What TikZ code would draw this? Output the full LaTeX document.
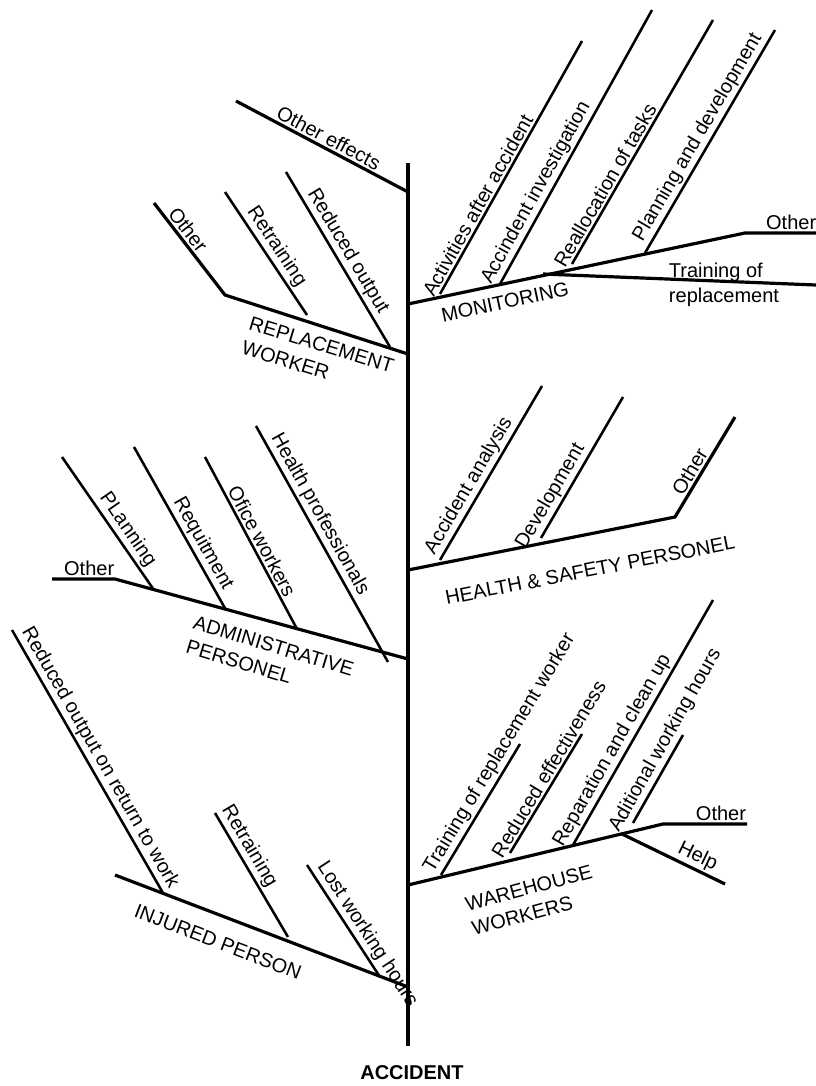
\documentclass[tikz,border=0pt]{standalone}
\usepackage{fontspec}
\setmainfont{Liberation Sans}
\begin{document}
\begin{tikzpicture}[x=0.75pt,y=-0.75pt]
        % Define styles
        \tikzset{
            spine/.style={line width=3.2pt},
            branch/.style={line width=2.4pt, line join=miter},
            twig/.style={line width=1.9pt},
            lbl/.style={font=\fontsize{15}{19}\selectfont, inner sep=1.5pt},
            along/.style={lbl, sloped, above},
            cause/.style={lbl, align=left, inner sep=0pt}
        }
        \useasboundingbox (0,0) rectangle (816,1086);

        % Coordinates
        \coordinate (spine_top) at (408,163);
        \coordinate (spine_bot) at (408,1046);

        \coordinate (oe_a) at (236,101);
        \coordinate (oe_b) at (408,192);

        \coordinate (rep_root) at (408,354);
        \coordinate (rep_bend) at (225,295);
        \coordinate (rep_end) at (154,203);
        \coordinate (rep_retr_a) at (225,192);
        \coordinate (rep_retr_b) at (307,315);
        \coordinate (rep_red_a) at (286,172);
        \coordinate (rep_red_b) at (390,347);

        \coordinate (mon_root) at (408,304);
        \coordinate (mon_bend) at (745,233);
        \coordinate (mon_end) at (816,233);
        \coordinate (mon_train_a) at (543,274);
        \coordinate (mon_train_b) at (816,285);
        \coordinate (mon_act_a) at (440,294);
        \coordinate (mon_act_b) at (582,41);
        \coordinate (mon_inv_a) at (500,284);
        \coordinate (mon_inv_b) at (652,10);
        \coordinate (mon_real_a) at (572,264);
        \coordinate (mon_real_b) at (713,20);
        \coordinate (mon_plan_a) at (645,253);
        \coordinate (mon_plan_b) at (775,30);

        \coordinate (hs_root) at (408,570);
        \coordinate (hs_bend) at (675,517);
        \coordinate (hs_end) at (735,417);
        \coordinate (hs_anal_a) at (440,560);
        \coordinate (hs_anal_b) at (542,386);
        \coordinate (hs_dev_a) at (541,538);
        \coordinate (hs_dev_b) at (623,397);

        \coordinate (adm_root) at (408,659);
        \coordinate (adm_bend) at (115,579);
        \coordinate (adm_end) at (52,579);
        \coordinate (adm_plan_a) at (62,457);
        \coordinate (adm_plan_b) at (154,590);
        \coordinate (adm_req_a) at (134,447);
        \coordinate (adm_req_b) at (226,610);
        \coordinate (adm_off_a) at (205,457);
        \coordinate (adm_off_b) at (297,629);
        \coordinate (adm_hp_a) at (256,426);
        \coordinate (adm_hp_b) at (388,662);

        \coordinate (wh_root) at (408,885);
        \coordinate (wh_bend) at (663,824);
        \coordinate (wh_end) at (747,824);
        \coordinate (wh_help_a) at (622,834);
        \coordinate (wh_help_b) at (725,884);
        \coordinate (wh_train_a) at (441,875);
        \coordinate (wh_train_b) at (520,744);
        \coordinate (wh_red_a) at (510,853);
        \coordinate (wh_red_b) at (582,734);
        \coordinate (wh_rep_a) at (573,845);
        \coordinate (wh_rep_b) at (713,600);
        \coordinate (wh_add_a) at (633,823);
        \coordinate (wh_add_b) at (683,735);

        \coordinate (inj_root) at (408,987);
        \coordinate (inj_end) at (115,875);
        \coordinate (inj_red_a) at (12,630);
        \coordinate (inj_red_b) at (163,893);
        \coordinate (inj_retr_a) at (215,813);
        \coordinate (inj_retr_b) at (288,937);
        \coordinate (inj_lost_a) at (307,865);
        \coordinate (inj_lost_b) at (380,977);

        % Spine
        \draw[spine] (spine_top) -- (spine_bot);
        \node[lbl, font=\fontsize{15}{19}\selectfont\bfseries] (accident) at (412,1073) {ACCIDENT};

        % Other effects
        \draw[branch] (oe_a) -- node[along, pos=0.51] (oe_lbl) {Other effects} (oe_b);

        % Replacement worker
        \draw[branch] (rep_root) -- (rep_bend) -- node[along, pos=0.64] (rep_other) {Other} (rep_end);
        \draw[twig] (rep_retr_a) -- node[along, pos=0.5] (rep_retr) {Retraining} (rep_retr_b);
        \draw[twig] (rep_red_a) -- node[along, pos=0.49] (rep_red) {Reduced output} (rep_red_b);
        \node[cause, rotate=-17] (rep_lbl) at (318,357) {REPLACEMENT\\WORKER};

        % Monitoring
        \draw[branch] (mon_root) -- (mon_bend) -- node[lbl, above, pos=0.65] (mon_other) {Other} (mon_end);
        \draw[branch] (mon_train_a) -- (mon_train_b);
        \node[cause] (mon_train) at (724,285) {Training of\\replacement};
        \draw[twig] (mon_act_a) -- node[along, pos=0.33] (mon_act) {Activities after accident} (mon_act_b);
        \draw[twig] (mon_inv_a) -- node[along, pos=0.31] (mon_inv) {Accindent investigation} (mon_inv_b);
        \draw[twig] (mon_real_a) -- node[along, pos=0.3] (mon_real) {Reallocation of tasks} (mon_real_b);
        \draw[twig] (mon_plan_a) -- node[along, pos=0.49] (mon_plan) {Planning and development} (mon_plan_b);
        \node[cause, rotate=12] (mon_lbl) at (505,302) {MONITORING};

        % Health and safety personel
        \draw[branch] (hs_root) -- (hs_bend) -- node[along, pos=0.4] (hs_other) {Other} (hs_end);
        \draw[twig] (hs_anal_a) -- node[along, pos=0.39] (hs_anal) {Accident analysis} (hs_anal_b);
        \draw[twig] (hs_dev_a) -- node[along, pos=0.25] (hs_dev) {Development} (hs_dev_b);
        \node[cause, rotate=11] (hs_lbl) at (590,570) {HEALTH \& SAFETY PERSONEL};

        % Administrative personel
        \draw[branch] (adm_root) -- (adm_bend) -- node[lbl, above, pos=0.41] (adm_other) {Other} (adm_end);
        \draw[twig] (adm_plan_a) -- node[along, pos=0.6] (adm_plan) {PLanning} (adm_plan_b);
        \draw[twig] (adm_req_a) -- node[along, pos=0.63] (adm_req) {Requitment} (adm_req_b);
        \draw[twig] (adm_off_a) -- node[along, pos=0.52] (adm_off) {Ofice workers} (adm_off_b);
        \draw[twig] (adm_hp_a) -- node[along, pos=0.4] (adm_hp) {Health professionals} (adm_hp_b);
        \node[cause, rotate=-17] (adm_lbl) at (270,658) {ADMINISTRATIVE\\PERSONEL};

        % Warehouse workers
        \draw[branch] (wh_root) -- (wh_bend) -- node[lbl, above, pos=0.69] (wh_other) {Other} (wh_end);
        \draw[branch] (wh_help_a) -- node[along, pos=0.68] (wh_help) {Help} (wh_help_b);
        \draw[twig] (wh_train_a) -- node[along, pos=0.88] (wh_train) {Training of replacement worker} (wh_train_b);
        \draw[twig] (wh_red_a) -- node[along, pos=0.66] (wh_red) {Reduced effectiveness} (wh_red_b);
        \draw[twig] (wh_rep_a) -- node[along, pos=0.36] (wh_rep) {Reparation and clean up} (wh_rep_b);
        \draw[twig] (wh_add_a) -- node[along, pos=0.87] (wh_add) {Aditional working hours} (wh_add_b);
        \node[cause, rotate=15] (wh_lbl) at (532,900) {WAREHOUSE\\WORKERS};

        % Injured person
        \draw[branch] (inj_root) -- (inj_end);
        \draw[twig] (inj_red_a) -- node[along, pos=0.51] (inj_red) {Reduced output on return to work} (inj_red_b);
        \draw[twig] (inj_retr_a) -- node[along, pos=0.32] (inj_retr) {Retraining} (inj_retr_b);
        \draw[twig] (inj_lost_a) -- node[along, pos=0.68] (inj_lost) {Lost working hours} (inj_lost_b);
        \node[cause, rotate=-21] (inj_lbl) at (218,942) {INJURED PERSON};
\end{tikzpicture}
\end{document}
